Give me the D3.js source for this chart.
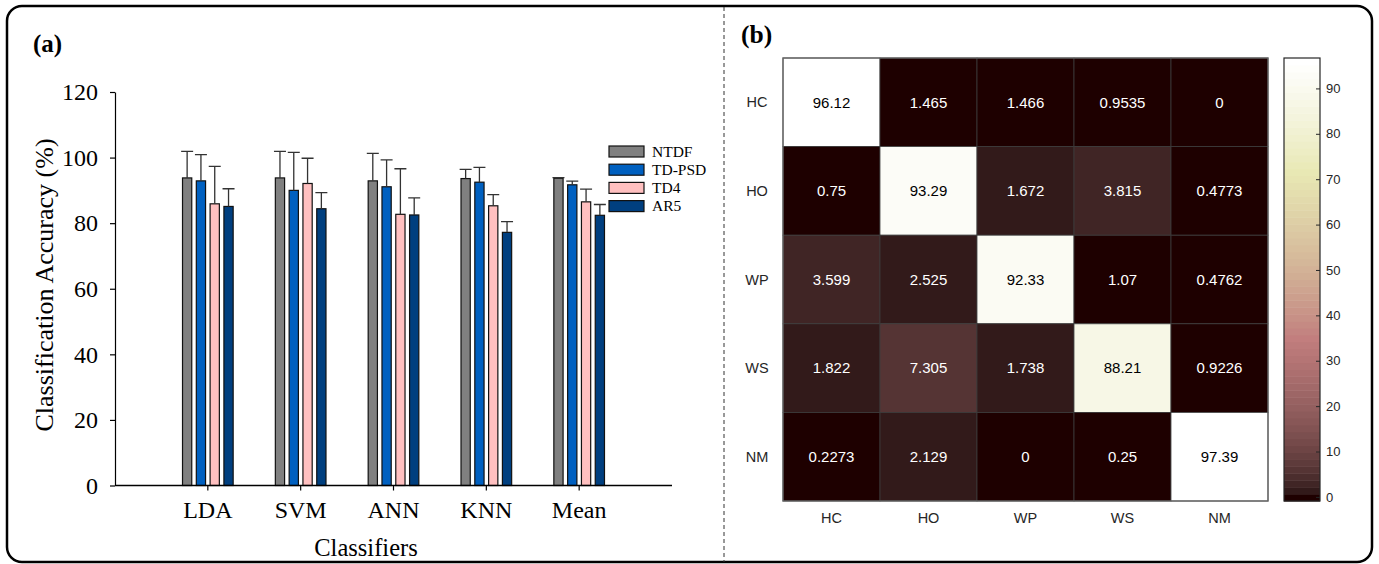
<!DOCTYPE html>
<html>
<head>
<meta charset="utf-8">
<script src="https://cdn.jsdelivr.net/npm/d3@7"></script>
<style>
  body { margin: 0; background: #fff; }
  svg { display: block; }
</style>
</head>
<body>
<svg id="fig" width="1379" height="564"></svg>
<script>
// ---- panel (a) data ----
const classifiers = ['LDA', 'SVM', 'ANN', 'KNN', 'Mean']
const featureSets = ['NTDF', 'TD-PSD', 'TD4', 'AR5']
const meanNTDF = [93.8, 93.8, 92.9, 93.6, 93.7]
const meanTDPSD = [92.9, 90.0, 91.1, 92.5, 91.7]
const meanTD4 = [85.9, 92.1, 82.7, 85.3, 86.5]
const meanAR5 = [85.1, 84.4, 82.5, 77.2, 82.4]
const sdNTDF = [8.1, 8.1, 8.4, 2.8, 0.2]
const sdTDPSD = [8.0, 11.6, 8.2, 4.5, 1.1]
const sdTD4 = [11.4, 7.7, 13.9, 3.4, 3.9]
const sdAR5 = [5.4, 4.9, 5.2, 3.3, 3.3]
const accTicks = [0, 20, 40, 60, 80, 100, 120]

// ---- panel (b) data ----
const classes = ['HC', 'HO', 'WP', 'WS', 'NM']
const rowHC = [96.12, 1.465, 1.466, 0.9535, 0]
const rowHO = [0.75, 93.29, 1.672, 3.815, 0.4773]
const rowWP = [3.599, 2.525, 92.33, 1.07, 0.4762]
const rowWS = [1.822, 7.305, 1.738, 88.21, 0.9226]
const rowNM = [0.2273, 2.129, 0, 0.25, 97.39]
const cbTicks = [0, 10, 20, 30, 40, 50, 60, 70, 80, 90]

const colors = { 'NTDF': '#808080', 'TD-PSD': '#0060c0', 'TD4': '#ffc0c0', 'AR5': '#003f7f' }
const serif = '"Liberation Serif", "Times New Roman", serif'
const sans = '"Liberation Sans", Arial, sans-serif'

const svg = d3.select('#fig')

// outer frame and divider
svg.append('rect')
  .attr('x', 7).attr('y', 6).attr('width', 1365).attr('height', 556)
  .attr('rx', 15).attr('ry', 15)
  .attr('fill', 'none').attr('stroke', '#000').attr('stroke-width', 2.5)

svg.append('line')
  .attr('x1', 724).attr('x2', 724).attr('y1', 7).attr('y2', 562)
  .attr('stroke', '#333').attr('stroke-width', 1).attr('stroke-dasharray', '4,3')

// ================= panel (a) =================
const series = featureSets.map(function (k, i) {
  const m = [meanNTDF, meanTDPSD, meanTD4, meanAR5][i]
  const s = [sdNTDF, sdTDPSD, sdTD4, sdAR5][i]
  return classifiers.map(function (c, j) { return { set: k, cls: c, mean: m[j], sd: s[j] } })
})

const axLeft = 115
const axRight = 672
const step = (axRight - axLeft) / 6
const x0 = d3.scaleBand().domain(classifiers).range([axLeft + step / 2, axRight - step / 2])
const x1 = d3.scaleBand().domain(featureSets).range([-27.6, 27.6]).paddingInner(0.33).paddingOuter(0.165)
const y = d3.scaleLinear().domain([0, 120]).range([485.5, 92])

const ga = svg.append('g')

// bars
const groups = ga.selectAll('g.set')
  .data(series)
  .enter()
  .append('g')
  .attr('class', 'set')

groups.selectAll('rect')
  .data(function (d) { return d })
  .enter()
  .append('rect')
  .attr('x', function (d) { return x0(d.cls) + x0.bandwidth() / 2 + x1(d.set) })
  .attr('y', function (d) { return y(d.mean) })
  .attr('width', x1.bandwidth())
  .attr('height', function (d) { return y(0) - y(d.mean) })
  .attr('fill', function (d) { return colors[d.set] })
  .attr('stroke', '#111')
  .attr('stroke-width', 1.2)

// error bars (upper only)
groups.selectAll('path.err')
  .data(function (d) { return d })
  .enter()
  .append('path')
  .attr('class', 'err')
  .attr('d', function (d) {
    const cx = x0(d.cls) + x0.bandwidth() / 2 + x1(d.set) + x1.bandwidth() / 2
    const top = y(d.mean + d.sd)
    return 'M' + cx + ',' + y(d.mean) + 'V' + top + 'M' + (cx - 6) + ',' + top + 'H' + (cx + 6)
  })
  .attr('fill', 'none')
  .attr('stroke', '#333')
  .attr('stroke-width', 1.3)

// y axis
const yAxis = ga.append('g')
  .attr('transform', 'translate(' + axLeft + ',0)')
  .call(d3.axisLeft(y).tickValues(accTicks).tickSize(5).tickPadding(12).tickSizeOuter(0))
yAxis.selectAll('text').attr('font-family', serif).attr('font-size', 24).attr('fill', '#000')
yAxis.selectAll('line, path').attr('stroke', '#000').attr('stroke-width', 1.2)

// x axis
const xAxis = ga.append('g')
  .attr('transform', 'translate(0,' + y(0) + ')')
  .call(d3.axisBottom(x0).tickSize(5).tickPadding(10).tickSizeOuter(0))
xAxis.select('.domain').remove()
xAxis.selectAll('text').attr('font-family', serif).attr('font-size', 24).attr('fill', '#000')
xAxis.selectAll('line').attr('stroke', '#000').attr('stroke-width', 1.2)
ga.append('line')
  .attr('x1', axLeft).attr('x2', axRight).attr('y1', y(0)).attr('y2', y(0))
  .attr('stroke', '#000').attr('stroke-width', 1.4)

// axis titles
ga.append('text')
  .attr('transform', 'translate(53,' + 285 + ') rotate(-90)')
  .attr('text-anchor', 'middle')
  .attr('font-family', serif).attr('font-size', 26)
  .text('Classification Accuracy (%)')

ga.append('text')
  .attr('x', 366).attr('y', 556)
  .attr('text-anchor', 'middle')
  .attr('font-family', serif).attr('font-size', 24.5)
  .text('Classifiers')

// legend
const legend = ga.append('g').attr('transform', 'translate(609,146)')
const li = legend.selectAll('g')
  .data(featureSets)
  .enter()
  .append('g')
  .attr('transform', function (d, i) { return 'translate(0,' + i * 18.2 + ')' })
li.append('rect')
  .attr('width', 35).attr('height', 11)
  .attr('fill', function (d) { return colors[d] })
  .attr('stroke', '#111').attr('stroke-width', 1.2)
li.append('text')
  .attr('x', 43).attr('y', 10.5)
  .attr('font-family', serif).attr('font-size', 15.5)
  .text(function (d) { return d })

ga.append('text')
  .attr('x', 33).attr('y', 52)
  .attr('font-family', serif).attr('font-size', 25).attr('font-weight', 'bold')
  .text('(a)')

// ================= panel (b) =================
// MATLAB "pink" colormap, 64 rows
function pinkRow (k, m) {
  const g = k / (m - 1)
  const n = Math.floor(3 / 8 * m)
  const r = Math.min(1, (k + 1) / n)
  const gg = Math.max(0, Math.min(1, (k + 1 - n) / n))
  const b = Math.max(0, Math.min(1, (k + 1 - 2 * n) / (m - 2 * n)))
  const f = function (h) { return Math.round(255 * Math.sqrt((2 * g + h) / 3)) }
  return d3.rgb(f(r), f(gg), f(b)).formatHex()
}
const pinkRows = d3.range(64).map(function (k) { return pinkRow(k, 64) })

const matrix = [rowHC, rowHO, rowWP, rowWS, rowNM]
const cells = []
matrix.forEach(function (row, i) {
  row.forEach(function (v, j) { cells.push({ r: classes[i], c: classes[j], v: v }) })
})

const color = d3.scaleQuantize().domain([0, d3.max(cells, function (d) { return d.v })]).range(pinkRows)
const hx = d3.scaleBand().domain(classes).range([783, 1268])
const hy = d3.scaleBand().domain(classes).range([58, 501])

const gb = svg.append('g')

gb.selectAll('rect.cell')
  .data(cells)
  .enter()
  .append('rect')
  .attr('class', 'cell')
  .attr('x', function (d) { return hx(d.c) })
  .attr('y', function (d) { return hy(d.r) })
  .attr('width', hx.bandwidth())
  .attr('height', hy.bandwidth())
  .attr('fill', function (d) { return color(d.v) })
  .attr('stroke', '#3c3c3c')
  .attr('stroke-width', 0.8)

gb.selectAll('text.val')
  .data(cells)
  .enter()
  .append('text')
  .attr('class', 'val')
  .attr('x', function (d) { return hx(d.c) + hx.bandwidth() / 2 })
  .attr('y', function (d) { return hy(d.r) + hy.bandwidth() / 2 })
  .attr('dy', '0.35em')
  .attr('text-anchor', 'middle')
  .attr('font-family', sans).attr('font-size', 15)
  .attr('fill', function (d) { return d3.hsl(color(d.v)).l > 0.5 ? '#000' : '#fff' })
  .text(function (d) { return d.v })

gb.append('rect')
  .attr('x', 783).attr('y', 58).attr('width', 485).attr('height', 443)
  .attr('fill', 'none').attr('stroke', '#666').attr('stroke-width', 1.3)

// row / column labels
gb.selectAll('text.rl')
  .data(classes)
  .enter()
  .append('text')
  .attr('class', 'rl')
  .attr('x', 757)
  .attr('y', function (d) { return hy(d) + hy.bandwidth() / 2 })
  .attr('dy', '0.35em')
  .attr('text-anchor', 'middle')
  .attr('font-family', sans).attr('font-size', 14.5).attr('fill', '#262626')
  .text(function (d) { return d })

gb.selectAll('text.cl')
  .data(classes)
  .enter()
  .append('text')
  .attr('class', 'cl')
  .attr('x', function (d) { return hx(d) + hx.bandwidth() / 2 })
  .attr('y', 518)
  .attr('dy', '0.35em')
  .attr('text-anchor', 'middle')
  .attr('font-family', sans).attr('font-size', 14.5).attr('fill', '#262626')
  .text(function (d) { return d })

// colorbar
const cbBand = d3.scaleBand().domain(d3.range(64)).range([501, 58])
gb.selectAll('rect.cb')
  .data(pinkRows)
  .enter()
  .append('rect')
  .attr('class', 'cb')
  .attr('x', 1284)
  .attr('y', function (d, k) { return cbBand(k) })
  .attr('width', 36)
  .attr('height', cbBand.bandwidth() + 0.5)
  .attr('fill', function (d) { return d })

const cbScale = d3.scaleLinear().domain([-0.9, 96.7]).range([501, 58])
const cbAxis = gb.append('g')
  .attr('transform', 'translate(1320,0)')
  .call(d3.axisRight(cbScale).tickValues(cbTicks).tickSize(-4).tickPadding(6))
cbAxis.select('.domain').remove()
cbAxis.selectAll('line').attr('stroke', '#262626')
cbAxis.selectAll('text').attr('font-family', sans).attr('font-size', 13).attr('fill', '#262626')

gb.append('rect')
  .attr('x', 1284).attr('y', 58).attr('width', 36).attr('height', 443)
  .attr('fill', 'none').attr('stroke', '#262626').attr('stroke-width', 1.2)

gb.append('text')
  .attr('x', 741).attr('y', 43)
  .attr('font-family', serif).attr('font-size', 25.5).attr('font-weight', 'bold')
  .text('(b)')
</script>
</body>
</html>
